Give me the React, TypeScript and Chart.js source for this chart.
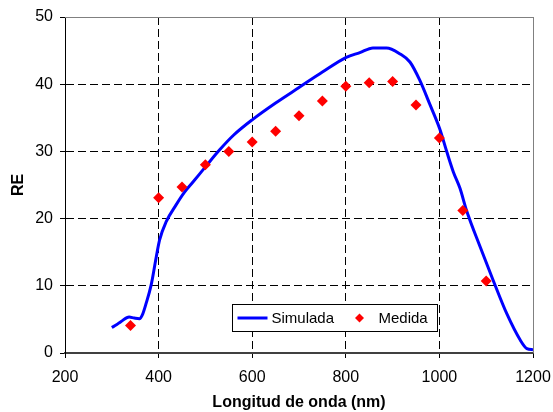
import { useEffect, useRef } from "react";
import { Chart, registerables } from "chart.js";

Chart.register(...registerables);

const FONT = "'Liberation Sans', Arial, Helvetica, sans-serif";

// Simulated curve (Simulada)
const simX = [300, 310, 320, 337, 348, 359, 366, 373, 384, 395, 402, 416, 437, 455, 473, 500, 530, 560, 600, 650, 700, 750, 801, 830, 858, 887, 916, 937, 958, 979, 1001, 1016, 1030, 1044, 1058, 1087, 1115, 1144, 1173, 1187, 1200];
const simY = [3.8, 4.2, 4.7, 5.35, 5.2, 5.1, 5.8, 7.3, 10.1, 14.3, 16.8, 19.5, 22.0, 23.9, 25.4, 27.7, 30.2, 32.4, 34.7, 37.2, 39.5, 41.8, 44.0, 44.7, 45.4, 45.4, 44.5, 43.3, 40.6, 37.1, 33.3, 29.9, 26.9, 24.5, 21.2, 15.8, 10.8, 5.85, 1.9, 0.65, 0.5];

// Measured points (Medida)
const measX = [340, 400, 450, 500, 550, 600, 650, 700, 750, 800, 850, 900, 950, 1000, 1050, 1100];
const measY = [4.1, 23.1, 24.7, 28.0, 30.0, 31.4, 33.0, 35.3, 37.5, 39.7, 40.2, 40.4, 36.9, 32.0, 21.2, 10.7];

const seriesNames = ["Simulada", "Medida"];
const xAxisTitle = "Longitud de onda (nm)";
const yAxisTitle = "RE";

const frameAndLegend = {
  id: "frameAndLegend",
  beforeDatasetsDraw(chart: any) {
    const { ctx, chartArea: ca } = chart;
    ctx.save();
    ctx.strokeStyle = "#808080";
    ctx.lineWidth = 1;
    ctx.beginPath();
    ctx.moveTo(ca.left, Math.round(ca.top) + 0.5);
    ctx.lineTo(ca.right + 0.5, Math.round(ca.top) + 0.5);
    ctx.moveTo(Math.round(ca.right) + 0.5, ca.top);
    ctx.lineTo(Math.round(ca.right) + 0.5, ca.bottom);
    ctx.stroke();
    ctx.restore();
  },
  afterDraw(chart: any) {
    const { ctx, chartArea: ca } = chart;
    const ds = chart.data.datasets;
    const left = Math.round(ca.left + 167) + 0.5;
    const top = Math.round(ca.top + 287) + 0.5;
    const w = 205;
    const h = 27;
    const cy = top + h / 2;
    ctx.save();
    ctx.fillStyle = "#ffffff";
    ctx.fillRect(left, top, w, h);
    ctx.strokeStyle = "#000000";
    ctx.lineWidth = 1;
    ctx.strokeRect(left, top, w, h);
    ctx.strokeStyle = ds[0].borderColor;
    ctx.lineWidth = 3;
    ctx.beginPath();
    ctx.moveTo(left + 5, cy);
    ctx.lineTo(left + 35, cy);
    ctx.stroke();
    ctx.fillStyle = "#000000";
    ctx.font = `15px ${FONT}`;
    ctx.textBaseline = "middle";
    ctx.textAlign = "left";
    ctx.fillText(ds[0].label, left + 39, cy + 1);
    const dx = left + 127;
    const r = 4.5;
    ctx.fillStyle = ds[1].backgroundColor;
    ctx.beginPath();
    ctx.moveTo(dx, cy - r);
    ctx.lineTo(dx + r, cy);
    ctx.lineTo(dx, cy + r);
    ctx.lineTo(dx - r, cy);
    ctx.closePath();
    ctx.fill();
    ctx.fillStyle = "#000000";
    ctx.fillText(ds[1].label, left + 146, cy + 1);
    ctx.restore();
  },
};

export default function App() {
  const canvasRef = useRef<HTMLCanvasElement | null>(null);

  useEffect(() => {
    if (!canvasRef.current) return;
    const chart = new Chart(canvasRef.current, {
      type: "scatter",
      data: {
        datasets: [
          {
            type: "line",
            label: seriesNames[0],
            data: simX.map((x, i) => ({ x, y: simY[i] })),
            borderColor: "#0000ff",
            backgroundColor: "#0000ff",
            borderWidth: 3,
            pointRadius: 0,
            cubicInterpolationMode: "monotone",
            fill: false,
            order: 1,
          },
          {
            type: "scatter",
            label: seriesNames[1],
            data: measX.map((x, i) => ({ x, y: measY[i] })),
            backgroundColor: "#ff0000",
            borderColor: "#ff0000",
            borderWidth: 0,
            pointStyle: "rectRot",
            pointRadius: 5.5,
            order: 0,
          },
        ],
      },
      options: {
        animation: false,
        responsive: true,
        maintainAspectRatio: false,
        layout: { padding: { top: 17, right: 20, left: 0, bottom: 0 } },
        plugins: {
          legend: { display: false },
          tooltip: { enabled: false },
        },
        scales: {
          x: {
            type: "linear",
            min: 200,
            max: 1200,
            ticks: {
              stepSize: 200,
              color: "#000000",
              font: { family: FONT, size: 16 },
              padding: 10,
              callback: (v: any) => String(v),
            },
            grid: {
              color: "#000000",
              lineWidth: 1,
              tickLength: 5,
              tickColor: "#000000",
              tickBorderDash: [],
            },
            border: { color: "#404040", width: 2, dash: [8, 4] },
            title: {
              display: true,
              text: xAxisTitle,
              color: "#000000",
              font: { family: FONT, size: 16, weight: "bold" },
              padding: { top: 4, bottom: 0 },
            },
            afterFit(scale: any) {
              scale.height = 59;
              scale.paddingLeft = 0;
              scale.paddingRight = 0;
            },
          },
          y: {
            min: 0,
            max: 50,
            ticks: {
              stepSize: 10,
              color: "#000000",
              font: { family: FONT, size: 16 },
              padding: 7,
              callback: (v: any) => String(v),
            },
            grid: {
              color: "#000000",
              lineWidth: 1,
              tickLength: 5,
              tickColor: "#000000",
              tickBorderDash: [],
            },
            border: { color: "#000000", width: 1, dash: [8, 4] },
            title: {
              display: true,
              text: yAxisTitle,
              color: "#000000",
              font: { family: FONT, size: 16, weight: "bold" },
              padding: { top: 9, bottom: 0 },
            },
            afterFit(scale: any) {
              scale.width = 65;
              scale.paddingTop = 0;
              scale.paddingBottom = 0;
            },
          },
        },
      },
      plugins: [frameAndLegend],
    });
    return () => chart.destroy();
  }, []);

  return (
    <div style={{ position: "absolute", left: 0, top: 0, width: 553, height: 412 }}>
      <canvas ref={canvasRef} />
    </div>
  );
}
